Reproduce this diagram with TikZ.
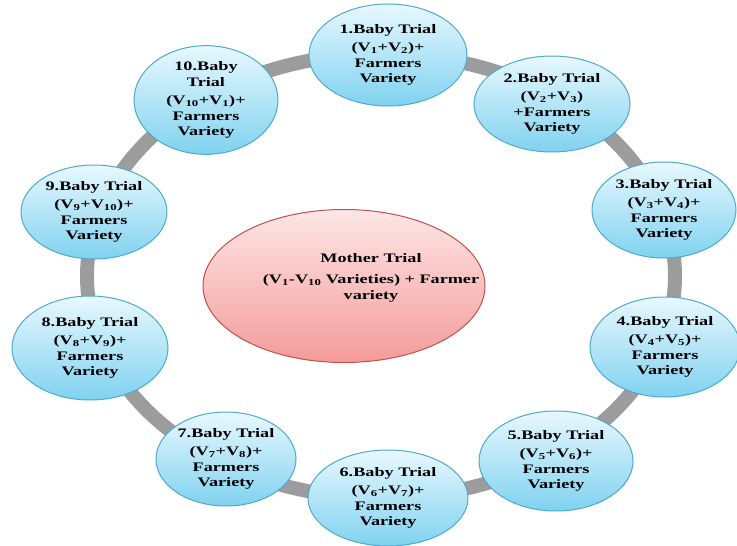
\documentclass[tikz,border=0pt]{standalone}
\usepackage{fontspec}
\setmainfont{Liberation Serif}[FakeStretch=1.4]
\usetikzlibrary{shapes.geometric,backgrounds}
\newcommand\vv[1]{V\textsubscript{#1}}
\definecolor{babytop}{HTML}{E8F8FE}
\definecolor{babybot}{HTML}{80D2F0}
\definecolor{babyline}{HTML}{4DAACB}
\definecolor{momtop}{HTML}{FDE6E6}
\definecolor{mombot}{HTML}{F59B9B}
\definecolor{momline}{HTML}{C0504D}
\definecolor{ringcol}{HTML}{9C9C9C}
\tikzset{
  baby/.style={ellipse, draw=babyline, line width=1pt, top color=babytop, bottom color=babybot,
    inner sep=0pt, align=center, font=\bfseries\fontsize{13}{15.5}\selectfont},
  mother/.style={ellipse, draw=momline, line width=1pt, top color=momtop, bottom color=mombot, inner sep=0pt},
  momtext/.style={align=center, font=\bfseries\fontsize{13}{16}\selectfont},
  ring/.style={draw=ringcol, line width=14pt}
}
\begin{document}
\begin{tikzpicture}[x=1pt,y=-1pt]
\useasboundingbox (0,0) rectangle (737,546);
\coordinate (rc) at (381,276);
\node[mother, minimum width=282pt, minimum height=153pt] (m) at (344,286) {};
\node[momtext] (mt) at (371,278) {Mother Trial\\[5pt] (\vv{1}-\vv{10} Varieties) + Farmer\\ variety};
\node[baby, minimum width=158pt, minimum height=102pt] (b1) at (388,55) {1.Baby Trial\\[3pt] (\vv{1}+\vv{2})+\\ Farmers\\ Variety};
\node[baby, minimum width=156pt, minimum height=96pt] (b2) at (552,104) {2.Baby Trial\\[3pt] (\vv{2}+\vv{3})\\ +Farmers\\ Variety};
\node[baby, minimum width=144pt, minimum height=96pt] (b3) at (664,210) {3.Baby Trial\\[3pt] (\vv{3}+\vv{4})+\\ Farmers\\ Variety};
\node[baby, minimum width=150pt, minimum height=100pt] (b4) at (665,347) {4.Baby Trial\\[3pt] (\vv{4}+\vv{5})+\\ Farmers\\ Variety};
\node[baby, minimum width=154pt, minimum height=100pt] (b5) at (556,461) {5.Baby Trial\\[3pt] (\vv{5}+\vv{6})+\\ Farmers\\ Variety};
\node[baby, minimum width=160pt, minimum height=96pt] (b6) at (388,498) {6.Baby Trial\\[3pt] (\vv{6}+\vv{7})+\\ Farmers\\ Variety};
\node[baby, minimum width=140pt, minimum height=94pt] (b7) at (226,459) {7.Baby Trial\\[3pt] (\vv{7}+\vv{8})+\\ Farmers\\ Variety};
\node[baby, minimum width=156pt, minimum height=104pt] (b8) at (90,348) {8.Baby Trial\\[3pt] (\vv{8}+\vv{9})+\\ Farmers\\ Variety};
\node[baby, minimum width=146pt, minimum height=94pt] (b9) at (94,212) {9.Baby Trial\\[3pt] (\vv{9}+\vv{10})+\\ Farmers\\ Variety};
\node[baby, minimum width=144pt, minimum height=90pt] (b10) at (206,100) {10.Baby\\ Trial\\[3pt] (\vv{10}+\vv{1})+\\ Farmers\\ Variety};
\begin{scope}[on background layer]
\draw[ring] (rc) ellipse [x radius=294, y radius=222];
\end{scope}
\end{tikzpicture}
\end{document}
